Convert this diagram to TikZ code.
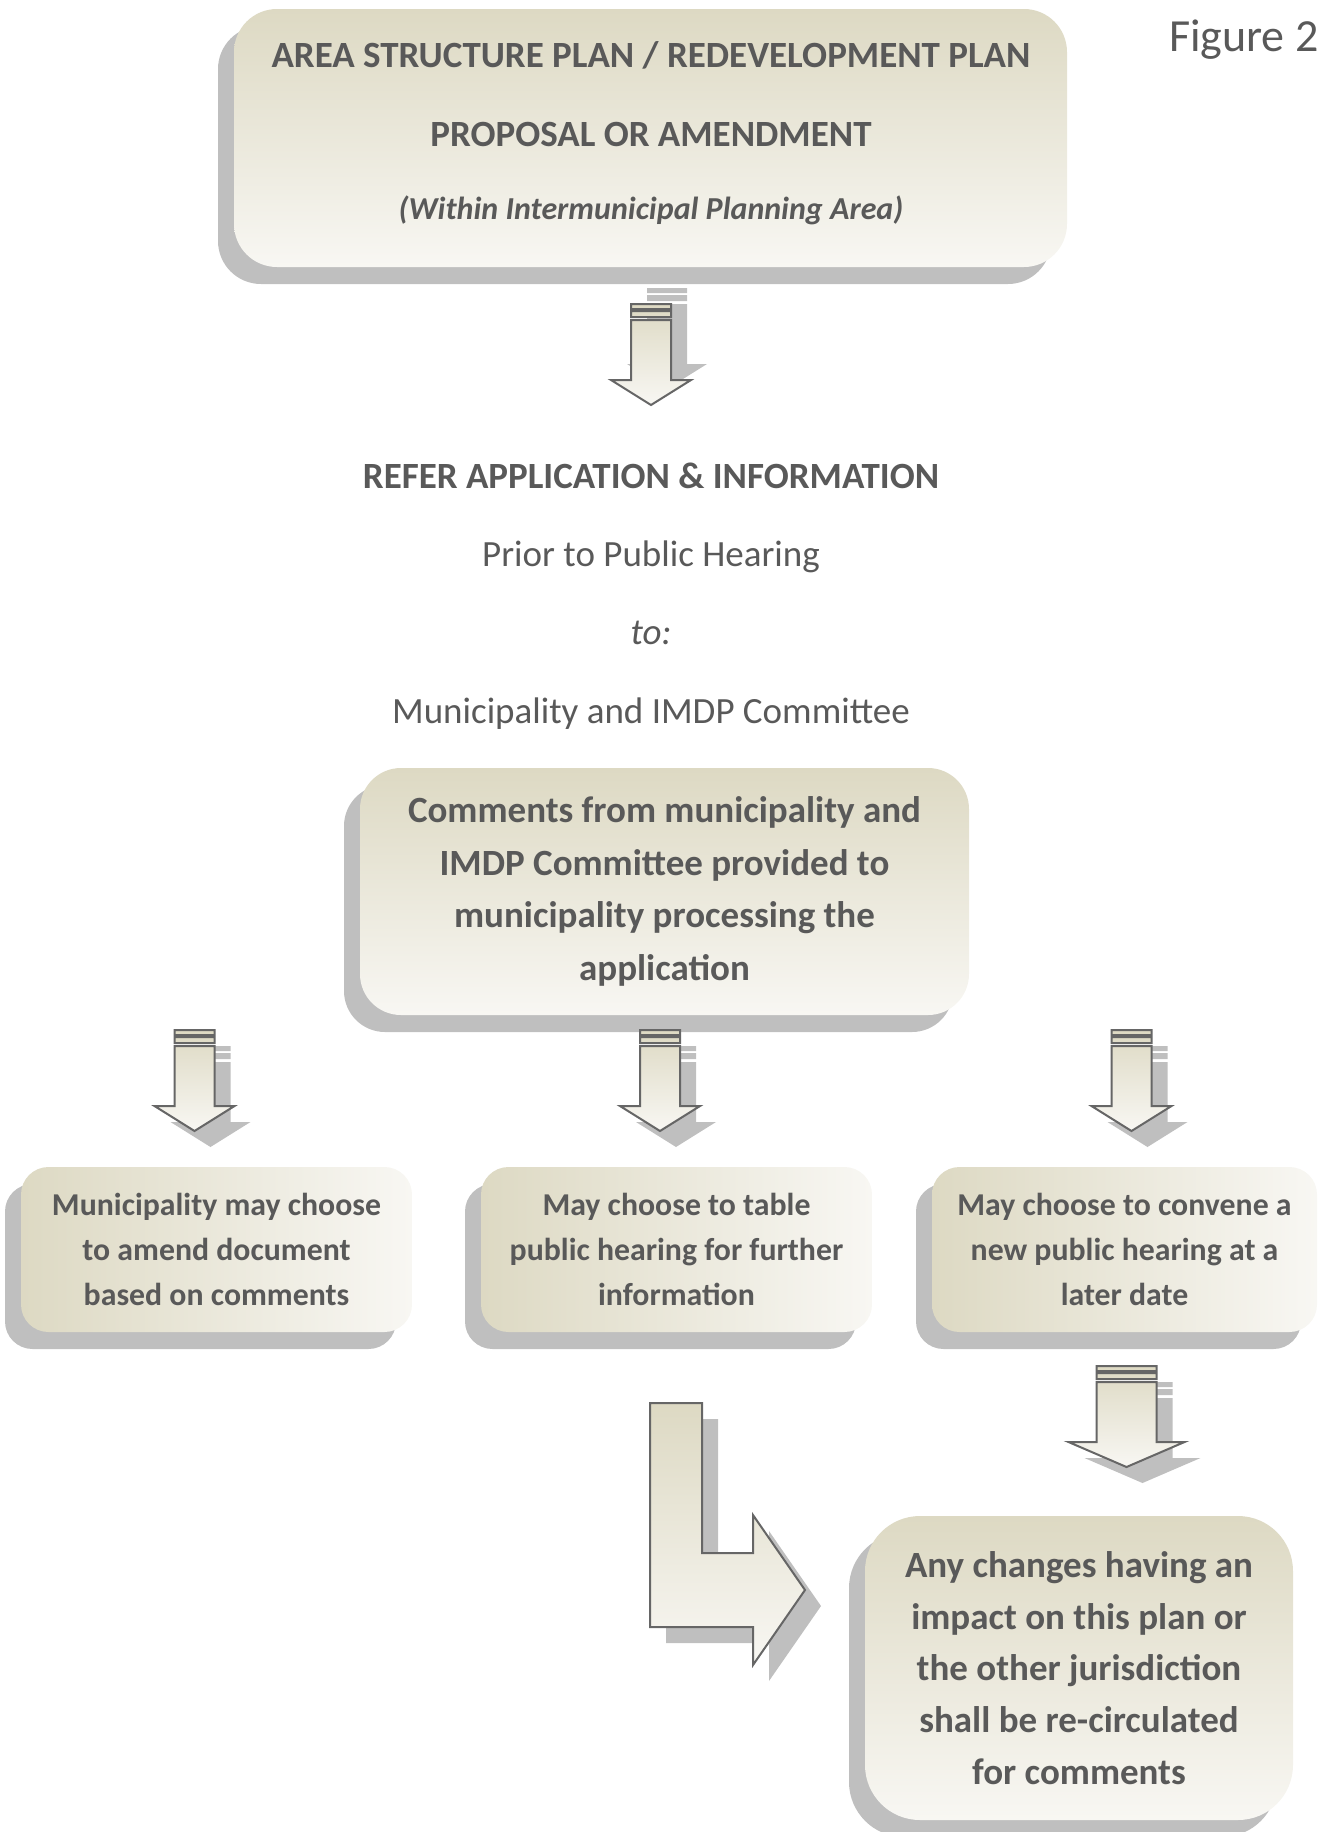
\documentclass[tikz,border=0pt]{standalone}
\usepackage{fontspec}
\setmainfont{Carlito}
\usetikzlibrary{shadows}
\definecolor{tanc}{HTML}{DDD9C3}
\definecolor{litec}{HTML}{F8F7F3}
\definecolor{shadowc}{HTML}{BFBFBF}
\definecolor{txtc}{HTML}{595959}
\definecolor{edgec}{HTML}{666666}
\tikzset{
  boxv/.style={top color=tanc, bottom color=litec, draw=none, inner sep=0pt},
  boxh/.style={left color=tanc, right color=litec, draw=none, inner sep=0pt},
  boxshadow/.style={drop shadow={shadow xshift=-8pt, shadow yshift=-8.5pt, fill=shadowc, opacity=1}},
  arrowline/.style={draw=edgec, line width=1pt, line join=miter},
  bigtxt/.style={font=\fontsize{18.5}{26.25}\selectfont\bfseries, text=txtc},
  plaintxt/.style={font=\fontsize{18.5}{22}\selectfont, text=txtc},
  smalltxt/.style={font=\fontsize{15.9}{22.5}\selectfont\bfseries, text=txtc},
  pics/sdarrow/.style n args={3}{code={
    \begin{scope}[shift={(16,#3)}]
      \fill[shadowc] (-#1,0) rectangle (#1,5) (-#1,7) rectangle (#1,13)
        (-#1,16) -- (#1,16) -- (#1,76) -- (#2,76) -- (0,101) -- (-#2,76) -- (-#1,76) -- cycle;
    \end{scope}
    \draw[arrowline, top color=tanc, bottom color=litec] (-#1,0) rectangle (#1,5) (-#1,7) rectangle (#1,13)
        (-#1,16) -- (#1,16) -- (#1,76) -- (#2,76) -- (0,101) -- (-#2,76) -- (-#1,76) -- cycle;
  }}
}
\begin{document}
\begin{tikzpicture}[x=0.5pt, y=-0.5pt]
\useasboundingbox (0,0) rectangle (1319,1832);

% Figure label
\node[anchor=base east, font=\fontsize{23}{27}\selectfont, text=txtc, inner sep=0pt] (fig) at (1319,51) {Figure 2};

% Top box
\node[boxv, boxshadow, rounded corners=21.5pt, minimum width=416.5pt, minimum height=129pt] (topbox) at (650.5,138) {};
\node[anchor=base, bigtxt] (t1) at (651,67) {AREA STRUCTURE PLAN / REDEVELOPMENT PLAN};
\node[anchor=base, bigtxt] (t2) at (651,146) {PROPOSAL OR AMENDMENT};
\node[anchor=base, font=\fontsize{16}{20}\selectfont\bfseries\itshape, text=txtc] (t3) at (651,219) {(Within Intermunicipal Planning Area)};

% top arrow
\pic at (651,304) {sdarrow={20}{40}{-16}};

% middle texts
\node[anchor=base, bigtxt] (refer) at (651,488) {REFER APPLICATION \& INFORMATION};
\node[anchor=base, plaintxt] (prior) at (651,566) {Prior to Public Hearing};
\node[anchor=base, plaintxt, font=\fontsize{18.5}{22}\selectfont\itshape] (to) at (651,644) {to:};
\node[anchor=base, plaintxt] (muni) at (651,723) {Municipality and IMDP Committee};

% middle box
\node[boxv, boxshadow, rounded corners=20.5pt, minimum width=304.5pt, minimum height=123.5pt, align=center, bigtxt] (midbox) at (664.5,891.5)
  {Comments from municipality and\\IMDP Committee provided to\\municipality processing the\\application};

% three arrows
\pic at (194.5,1030) {sdarrow={20}{40}{16}};
\pic at (660,1030) {sdarrow={20}{40}{16}};
\pic at (1131.5,1030) {sdarrow={20}{40}{16}};

% lower boxes
\node[boxh, boxshadow, rounded corners=13.75pt, minimum width=195.5pt, minimum height=82.5pt, align=center, smalltxt] (opt1) at (216.5,1249.5)
  {Municipality may choose\\to amend document\\based on comments};
\node[boxh, boxshadow, rounded corners=13.75pt, minimum width=195.5pt, minimum height=82.5pt, align=center, smalltxt] (opt2) at (676.5,1249.5)
  {May choose to table\\public hearing for further\\information};
\node[boxh, boxshadow, rounded corners=13.75pt, minimum width=192.5pt, minimum height=82.5pt, align=center, smalltxt] (opt3) at (1124.5,1249.5)
  {May choose to convene a\\new public hearing at a\\later date};

% arrow below right box
\pic at (1126.5,1366) {sdarrow={30}{58}{16}};

% bent arrow
\begin{scope}[shift={(16,16)}]
  \fill[shadowc] (650,1403) -- (702,1403) -- (702,1553) -- (753,1553) -- (753,1515) -- (805,1590) -- (753,1665) -- (753,1627) -- (650,1627) -- cycle;
\end{scope}
\draw[arrowline, top color=tanc, bottom color=litec] (650,1403) -- (702,1403) -- (702,1553) -- (753,1553) -- (753,1515) -- (805,1590) -- (753,1665) -- (753,1627) -- (650,1627) -- cycle;

% bottom box
\node[boxv, boxshadow, rounded corners=27.5pt, minimum width=214pt, minimum height=152pt, align=center, font=\fontsize{18.5}{25.8}\selectfont\bfseries, text=txtc] (final) at (1079,1668)
  {Any changes having an\\impact on this plan or\\the other jurisdiction\\shall be re-circulated\\for comments};
\end{tikzpicture}
\end{document}
